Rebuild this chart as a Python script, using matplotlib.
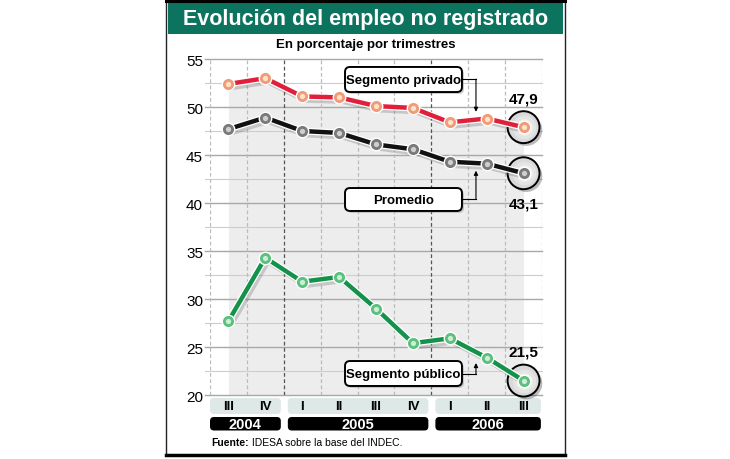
import numpy as np
import matplotlib.pyplot as plt
import matplotlib.patheffects as pe
from matplotlib.patches import FancyBboxPatch, Rectangle

# datos
quarters = ['III', 'IV', 'I', 'II', 'III', 'IV', 'I', 'II', 'III']
years = ['2004', '2005', '2006']
year_counts = [2, 4, 3]
privado = [52.4, 53.0, 51.1, 51.0, 50.1, 49.9, 48.4, 48.8, 47.9]
promedio = [47.7, 48.9, 47.5, 47.3, 46.1, 45.6, 44.3, 44.1, 43.1]
publico = [27.7, 34.3, 31.8, 32.3, 29.0, 25.4, 25.9, 23.9, 21.5]
yticks = [20, 25, 30, 35, 40, 45, 50, 55]

W, H = 730, 460
NARROW = ['Liberation Sans Narrow', 'Liberation Sans', 'DejaVu Sans']
SANS = ['Liberation Sans', 'DejaVu Sans']
TEAL = '#0b735e'

fig = plt.figure(figsize=(W / 100, H / 100), dpi=100)
fig.patch.set_facecolor('white')

back = fig.add_axes([0, 0, 1, 1], zorder=0)
ax = fig.add_axes([210 / W, 1 - 396 / H, 332 / W, 336 / H], zorder=2)
front = fig.add_axes([0, 0, 1, 1], zorder=3)
for a in (back, front):
    a.set_xlim(0, W)
    a.set_ylim(H, 0)
    a.axis('off')
    a.patch.set_alpha(0)

x = np.arange(len(quarters))
ax.set_xlim(-0.5, len(quarters) - 0.5)
ax.set_ylim(20, 55)
ax.patch.set_alpha(0)
for s in ax.spines.values():
    s.set_visible(False)
ax.set_xticks([])
ax.set_yticks(yticks)
ax.set_yticklabels([str(t) for t in yticks], family=SANS, fontsize=11)
ax.tick_params(axis='y', length=0, pad=5)


def to_px(xd, yd):
    dx, dy = ax.transData.transform((xd, yd))
    return dx, H - dy


# marco y titulo
back.add_patch(Rectangle((166, 1), 399, 455, fill=False, ec='#222222', lw=1))
back.plot([166, 565], [1.5, 1.5], color='black', lw=2.2)
back.plot([166, 565], [456, 456], color='black', lw=2.5)
back.add_patch(Rectangle((168, 4), 395, 31, color=TEAL, lw=0))
back.text(365.5, 19.5, 'Evolución del empleo no registrado', color='white',
          fontsize=15.5, fontweight='bold', family=NARROW, ha='center', va='center')
back.text(365.5, 45, 'En porcentaje por trimestres', fontsize=9.5,
          fontweight='bold', family=NARROW, ha='center', va='center')

# grilla
for v in np.arange(20, 55.1, 2.5):
    major = v % 5 == 0
    ax.axhline(v, color='#a8a8a8' if major else '#cdcdcd', lw=1.0 if major else 0.8,
               zorder=1, xmin=-0.015, clip_on=False)
bounds = np.cumsum(year_counts)[:-1] - 0.5
for v in np.arange(-0.5, len(quarters), 1.0):
    dark = v in bounds
    ax.axvline(v, color='#555555' if dark else '#bbbbbb', lw=0.9, ls=(0, (3, 2)), zorder=1)

ax.fill_between(x, 20, privado, color='#ededed', lw=0, zorder=0.5)

# circulos finales
last = len(x) - 1
for serie in (privado, promedio, publico):
    ax.plot(x[last], serie[last], 'o', ms=23, mfc='#d9d9d9', mec='black', mew=1.4,
            zorder=3, clip_on=False,
            path_effects=[pe.SimplePatchShadow(offset=(2, -2), alpha=0.35), pe.Normal()])
    for ms, c in ((17, '#e4e4e4'), (12, '#efefef'), (7, '#f8f8f8')):
        ax.plot(x[last], serie[last], 'o', ms=ms, mfc=c, mec='none', zorder=3.1, clip_on=False)

# lineas
styles = [
    (privado, '#e0203a', '#f39a76', '#fde2cc'),
    (promedio, '#111111', '#7a7a7a', '#cfcfcf'),
    (publico, '#14924a', '#5cc07e', '#c9efd5'),
]
for serie, lc, mc, mc2 in styles:
    ax.plot(x, serie, color=lc, lw=3.2, zorder=4, solid_capstyle='round',
            path_effects=[pe.SimpleLineShadow(offset=(2, -3), alpha=0.25, shadow_color='#555555'),
                          pe.Stroke(linewidth=5, foreground='white'), pe.Normal()])
    ax.plot(x, serie, 'o', ms=9, mfc=mc, mec='white', mew=1.0, zorder=5, clip_on=False)
    ax.plot(x, serie, 'o', ms=3.8, mfc=mc2, mec='none', zorder=5.1, clip_on=False)

# valores finales
for serie, dy in ((privado, 2.95), (promedio, -3.1), (publico, 3.0)):
    px, py = to_px(x[last], serie[last] + dy)
    front.text(px, py, f'{serie[last]:.1f}'.replace('.', ','), fontsize=11,
               fontweight='bold', family=NARROW, ha='center', va='center')


# etiquetas de series
def label_box(text, y_top, y_bot, arrow_y, arrow_end):
    x0, yt = to_px(3.16, y_top)
    x1, yb = to_px(6.33, y_bot)
    front.add_patch(FancyBboxPatch((x0 + 2, yt + 2), x1 - x0, yb - yt,
                                   boxstyle='round,pad=0,rounding_size=5',
                                   fc='#9a9a9a', ec='none', alpha=0.5, zorder=1))
    front.add_patch(FancyBboxPatch((x0, yt), x1 - x0, yb - yt,
                                   boxstyle='round,pad=0,rounding_size=5',
                                   fc='white', ec='black', lw=1.4, zorder=2))
    front.text((x0 + x1) / 2, (yt + yb) / 2 + 0.5, text, fontsize=9.5, fontweight='bold',
               family=NARROW, ha='center', va='center', zorder=3)
    ax_, ay = to_px(6.71, arrow_y)
    _, ey = to_px(6.71, arrow_end)
    front.plot([x1, ax_], [ay, ay], color='black', lw=0.8, zorder=2)
    front.annotate('', xy=(ax_, ey), xytext=(ax_, ay),
                   arrowprops=dict(arrowstyle='-|>', color='black', lw=0.8,
                                   mutation_scale=6, shrinkA=0, shrinkB=0))


label_box('Segmento privado', 54.17, 51.56, 52.9, 49.5)
label_box('Promedio', 41.56, 39.17, 40.4, 43.36)
label_box('Segmento público', 23.54, 20.94, 22.2, 23.33)

# franjas de trimestres y anos
start = 0
for i, (yr, n) in enumerate(zip(years, year_counts)):
    lo = start - 0.5 + (0.11 if i > 0 else 0)
    hi = start + n - 0.5 - (0.08 if i < len(years) - 1 else 0.03)
    x0, _ = to_px(lo, 20)
    x1, _ = to_px(hi, 20)
    back.add_patch(FancyBboxPatch((x0, 399), x1 - x0, 16, boxstyle='round,pad=0,rounding_size=4',
                                  fc='#dde8e7', ec='none'))
    back.add_patch(FancyBboxPatch((x0, 418), x1 - x0, 13.5, boxstyle='round,pad=0,rounding_size=4',
                                  fc='black', ec='none'))
    back.text((x0 + x1) / 2, 425, yr, color='white', fontsize=10.5, fontweight='bold',
              family=NARROW, ha='center', va='center')
    start += n
for xi, q in zip(x, quarters):
    px, _ = to_px(xi, 20)
    back.text(px, 407.5, q, fontsize=9.5, fontweight='bold', family=NARROW,
              ha='center', va='center')

t1 = back.text(211, 443, 'Fuente:', fontsize=7.5, fontweight='bold', family=SANS,
               ha='left', va='center')
back.annotate(' IDESA sobre la base del INDEC.', xy=(1, 0.5), xycoords=t1,
              fontsize=7.5, family=SANS, ha='left', va='center')

fig.savefig('out.png', dpi=100)
